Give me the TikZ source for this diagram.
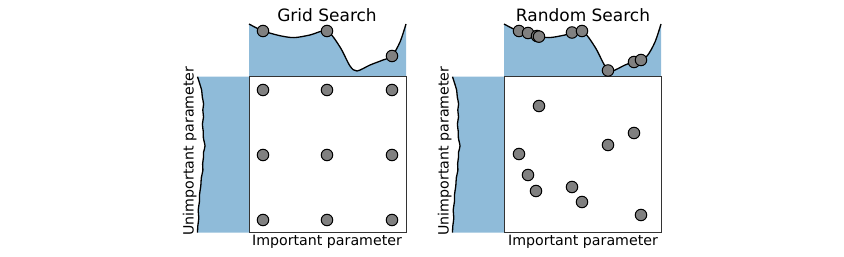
\documentclass[tikz,border=0pt]{standalone}
\usepackage{fontspec}
\setmainfont{DejaVu Sans}
\definecolor{pblue}{RGB}{143,187,217}
\tikzset{
  dot/.style={circle, fill=black!50, draw=black, line width=1pt, minimum size=11.5pt, inner sep=0pt},
  frame/.style={draw=black!80, line width=1pt},
  curve/.style={black, line width=1.3pt},
  titletext/.style={font=\fontsize{17}{20}\selectfont, anchor=base},
  axlabel/.style={font=\fontsize{14.2}{17}\selectfont, anchor=base},
}
\newcommand\topcurvepts{(249,24) (262,30.5) (279,35.5) (294,37.6) (310,35) (327,31) (340,47) (350,66) (357,71) (370,65) (383,60) (392,56) (400,42) (406,24)}
\newcommand\wavypts{(197.5,76.7) (199.5,83) (201.6,90) (202.3,97) (203.6,104) (202.8,110) (203.5,117) (202.4,124) (203.2,131) (203.4,138) (205,146) (203.6,152) (203.4,158) (202.6,164) (202.9,170) (201.3,178) (200.8,186) (199.6,194) (199.4,202) (198.2,210) (198.8,218) (197.8,226) (197.5,232.7)}
\newcommand\panelbase{%
  \fill[pblue] (249,76.7) -- plot[smooth] coordinates {\topcurvepts} -- (406,76.7) -- cycle;
  \draw[curve] plot[smooth] coordinates {\topcurvepts};
  \fill[pblue] (249,76.7) -- plot[smooth] coordinates {\wavypts} -- (249,232.7) -- cycle;
  \draw[curve] plot[smooth] coordinates {\wavypts};
  \draw[frame, fill=white] (249,76.7) rectangle (406,232.7);
}
\begin{document}
\begin{tikzpicture}[x=1pt, y=-1pt]
\useasboundingbox (0,0) rectangle (844,257);
% Grid search panel
\begin{scope}
  \panelbase
  \node[titletext] (gtitle) at (327,21) {Grid Search};
  \node[axlabel] (gxlab) at (327,245.5) {Important parameter};
  \node[axlabel, rotate=90] (gylab) at (193.5,151) {Unimportant parameter};
  \foreach \i/\x in {1/263,2/327,3/392}{
    \foreach \j/\y in {1/90,2/155,3/220}{
      \node[dot] (g\i\j) at (\x,\y) {};
    }
  }
  \node[dot] (gt1) at (263,31) {};
  \node[dot] (gt2) at (327,31) {};
  \node[dot] (gt3) at (392,56) {};
\end{scope}
% Random search panel
\begin{scope}[xshift=255pt]
  \panelbase
  \node[titletext] (rtitle) at (328,21) {Random Search};
  \node[axlabel] (rxlab) at (328,245.5) {Important parameter};
  \node[axlabel, rotate=90] (rylab) at (193.5,151) {Unimportant parameter};
  \foreach \k/\x/\y in {1/284/106,2/379/133,3/353/145,4/264/154,5/273/175,6/281/191,7/317/187,8/327/202,9/386/215}{
    \node[dot] (r\k) at (\x,\y) {};
  }
  \foreach \k/\x/\y in {1/264/31,2/273/33,3/282/36,4/284/36.6,5/317/32.5,6/327/31,7/353/70.5,8/379/62,9/386/60}{
    \node[dot] (rt\k) at (\x,\y) {};
  }
\end{scope}
\end{tikzpicture}
\end{document}
